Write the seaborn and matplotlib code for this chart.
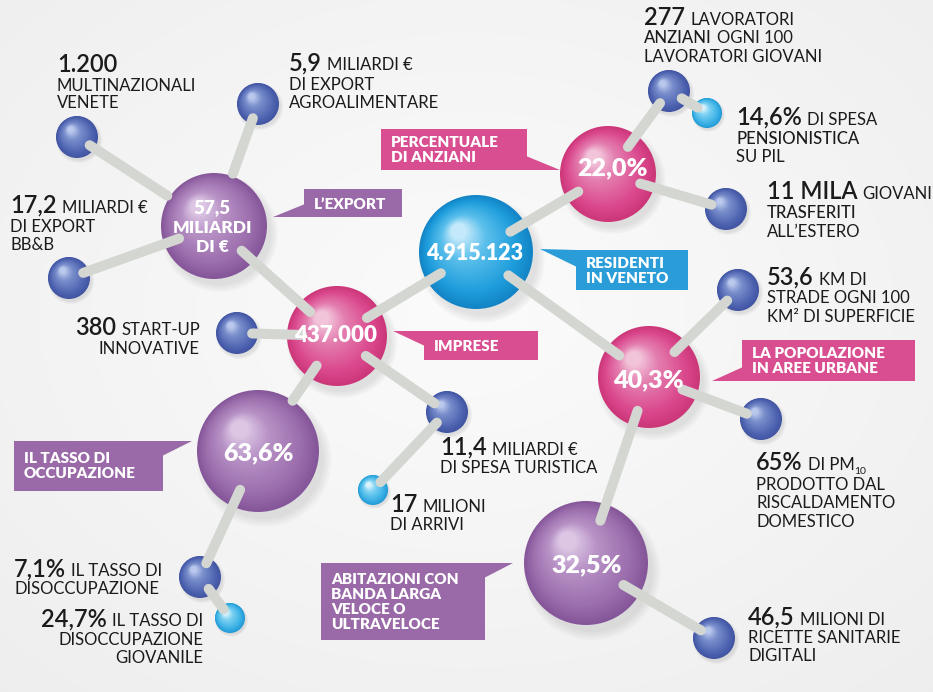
import numpy as np
import pandas as pd
import matplotlib
matplotlib.use("Agg")
import matplotlib.pyplot as plt
import seaborn as sns
from matplotlib.patches import Polygon, Rectangle
from matplotlib.colors import LinearSegmentedColormap

sns.set_theme(style="white")
plt.rcParams["font.family"] = ["Lato", "DejaVu Sans"]

# ------------------------------------------------------------------ data
hub_names = ["export", "residenti", "imprese", "anziani", "urbane", "occupazione", "banda"]
hub_values = [["57,5", "MILIARDI", "DI €"], ["4.915.123"], ["437.000"], ["22,0%"],
              ["40,3%"], ["63,6%"], ["32,5%"]]
hub_captions = [["L’EXPORT"], ["RESIDENTI", "IN VENETO"], ["IMPRESE"],
                ["PERCENTUALE", "DI ANZIANI"], ["LA POPOLAZIONE", "IN AREE URBANE"],
                ["IL TASSO DI", "OCCUPAZIONE"],
                ["ABITAZIONI CON", "BANDA LARGA", "VELOCE O", "ULTRAVELOCE"]]
hub_kind = ["purple", "blue", "pink", "pink", "pink", "purple", "purple"]

leaf_names = ["multinaz", "agro", "bbb", "startup", "turismo", "arrivi", "disocc",
              "disoccg", "lavoratori", "pensioni", "giovani", "strade", "pm10", "ricette"]
leaf_kind = ["small", "small", "small", "small", "small", "cyan", "small",
             "cyan", "small", "cyan", "small", "small", "small", "small"]
leaf_texts = [
    [[("1.200", "n")], [("MULTINAZIONALI", "w")], [("VENETE", "w")]],
    [[("5,9", "n"), ("MILIARDI €", "w")], [("DI EXPORT", "w")], [("AGROALIMENTARE", "w")]],
    [[("17,2", "n"), ("MILIARDI €", "w")], [("DI EXPORT", "w")], [("BB&B", "w")]],
    [[("380", "n"), ("START-UP", "w")], [("INNOVATIVE", "w")]],
    [[("11,4", "n"), ("MILIARDI €", "w")], [("DI SPESA TURISTICA", "w")]],
    [[("17", "n"), ("MILIONI", "w")], [("DI ARRIVI", "w")]],
    [[("7,1%", "n"), ("IL TASSO DI", "w")], [("DISOCCUPAZIONE", "w")]],
    [[("24,7%", "n"), ("IL TASSO DI", "w")], [("DISOCCUPAZIONE", "w")], [("GIOVANILE", "w")]],
    [[("277", "n"), ("LAVORATORI", "w")], [("ANZIANI", "wm"), ("OGNI 100", "w")],
     [("LAVORATORI GIOVANI", "w")]],
    [[("14,6%", "n"), ("DI SPESA", "w")], [("PENSIONISTICA", "wm")], [("SU PIL", "w")]],
    [[("11 MILA", "n"), ("GIOVANI", "w")], [("TRASFERITI", "wm")], [("ALL’ESTERO", "w")]],
    [[("53,6", "n"), ("KM DI", "w")], [("STRADE OGNI 100", "w")], [("KM² DI SUPERFICIE", "w")]],
    [[("65%", "n"), ("DI PM", "w"), ("10", "sub")], [("PRODOTTO DAL", "w")],
     [("RISCALDAMENTO", "w")], [("DOMESTICO", "w")]],
    [[("46,5", "n"), ("MILIONI DI", "w")], [("RICETTE SANITARIE", "w")], [("DIGITALI", "w")]],
]

edges = [("export", "multinaz"), ("export", "agro"), ("export", "bbb"), ("export", "imprese"),
         ("imprese", "residenti"), ("imprese", "startup"), ("imprese", "occupazione"),
         ("imprese", "turismo"), ("turismo", "arrivi"), ("occupazione", "disocc"),
         ("disocc", "disoccg"), ("residenti", "anziani"), ("anziani", "lavoratori"),
         ("lavoratori", "pensioni"), ("anziani", "giovani"), ("residenti", "urbane"),
         ("urbane", "strade"), ("urbane", "pm10"), ("urbane", "banda"), ("banda", "ricette")]

# ------------------------------------------------------------------ layout (pixels)
node_xy = {
    "export": (214, 226, 53), "residenti": (476, 252, 57), "imprese": (337, 336, 50),
    "anziani": (608, 174, 48), "urbane": (649, 377, 51), "occupazione": (258, 451, 61),
    "banda": (586, 563, 62),
    "multinaz": (77, 137, 21), "agro": (258, 104, 21), "bbb": (69, 278, 21),
    "startup": (237, 333, 21), "turismo": (447, 412, 21), "arrivi": (373, 490, 15),
    "disocc": (200, 577, 21), "disoccg": (230, 618, 15), "lavoratori": (669, 91, 21),
    "pensioni": (707, 113, 15), "giovani": (726, 209, 21), "strade": (738, 290, 21),
    "pm10": (761, 419, 21), "ricette": (714, 638, 21),
}
# how far (fraction of radius) a connector reaches into each end sphere
edge_trim = {("export", "multinaz"): (1.05, 0.72), ("export", "agro"): (1.05, 0.72),
             ("imprese", "occupazione"): (0.72, 1.0)}
leaf_pos = {  # x anchor, alignment, baselines
    "multinaz": (57, "left", [72, 91, 108]), "agro": (289, "left", [70, 90, 108]),
    "bbb": (10, "left", [213, 232, 250]), "startup": (200, "right", [335, 354]),
    "turismo": (440, "left", [455, 473]), "arrivi": (390, "left", [512, 530]),
    "disocc": (14, "left", [576, 594]), "disoccg": (203, "right", [626, 645, 663]),
    "lavoratori": (644, "left", [25, 43, 62]), "pensioni": (736, "left", [125, 144, 162]),
    "giovani": (767, "left", [199, 218, 237]), "strade": (767, "left", [285, 303, 322]),
    "pm10": (756, "left", [470, 490, 508, 527]), "ricette": (748, "left", [625, 643, 661]),
}
hub_text_pos = {  # x centre, baselines, sizes
    "export": (212, [213, 233, 252], [13.5, 12.5, 12.5]),
    "residenti": (475, [260], [15.5]), "imprese": (336, [342], [16]),
    "anziani": (612, [175], [18]), "urbane": (648, [387], [18]),
    "occupazione": (258, [460], [18]), "banda": (587, [572], [18]),
}
callouts = {  # box (x0,y0,x1,y1), tail triangle, text baselines
    "export": ((304, 189, 402, 217), [(273, 217), (305, 217), (305, 204)], [209]),
    "residenti": ((576, 250, 688, 290), [(540, 249), (577, 250), (577, 267)], [268, 283]),
    "imprese": ((424, 331, 538, 360), [(393, 331), (425, 331), (425, 346)], [351]),
    "anziani": ((381, 129, 527, 170), [(560, 170), (526, 170), (526, 156)], [147, 162]),
    "urbane": ((742, 340, 915, 381), [(712, 381), (743, 381), (743, 367)], [358, 373]),
    "occupazione": ((14, 441, 163, 491), [(192, 441), (162, 441), (162, 456)], [463, 478]),
    "banda": ((321, 563, 485, 640), [(513, 563), (484, 563), (484, 578)], [584, 599, 614, 629]),
}

kind_colors = {
    "purple": ["#85579a", "#9a6cab", "#b893c6", "#dcc6e4"],
    "pink": ["#cc3779", "#da478c", "#e47fb0", "#f2c4da"],
    "blue": ["#1385c6", "#1d9cdb", "#5cc0ec", "#c4e9fa"],
    "small": ["#4155a3", "#5065b1", "#7a8fcc", "#bac8ee"],
    "cyan": ["#229bd6", "#3bb1e6", "#7dd2f2", "#dcf5fd"],
}
box_colors = {"purple": "#9a69a8", "pink": "#d84e90", "blue": "#2a9dd8"}
text_dark = "#1b1b1b"
link_color = "#d4d6d1"

W, H = 933, 692
fig = plt.figure(figsize=(W / 100, H / 100), dpi=100)
ax = fig.add_axes([0, 0, 1, 1])

# background soft radial gradient
yy, xx = np.mgrid[0:H, 0:W]
d = np.sqrt(((xx - W * 0.5) / W) ** 2 + ((yy - H * 0.45) / H) ** 2)
bg = np.clip(0.985 - 0.07 * d, 0, 1)
ax.imshow(np.dstack([bg, bg, bg]), extent=[0, W, H, 0], zorder=0, aspect="auto")

all_names = hub_names + leaf_names
all_kind = dict(zip(hub_names, hub_kind)) | dict(zip(leaf_names, leaf_kind))
cmaps = {k: LinearSegmentedColormap.from_list(k, list(zip([0, 0.22, 0.7, 1.0], v)))
         for k, v in kind_colors.items()}

def pt_area(r):
    return (2 * r * 0.72) ** 2

# shadows
for j in range(4):
    rows = []
    for n in all_names:
        x, y, r = node_xy[n]
        rows.append(dict(node=n, x=x + 0.10 * r, y=y + 0.14 * r, s=pt_area(r * (1.10 - 0.04 * j))))
    df = pd.DataFrame(rows)
    sns.scatterplot(data=df, x="x", y="y", size="node", sizes=dict(zip(df.node, df.s)),
                    color="#6b6b6b", alpha=0.045, linewidth=0, legend=False, ax=ax, zorder=1)

# gradient spheres
N = 30
for k in range(N):
    t = k / (N - 1)
    rows = []
    for n in all_names:
        x, y, r = node_xy[n]
        rr = r * (1 - 0.86 * t)
        cx, cy = x - 0.30 * r * t, y - 0.36 * r * t
        col = cmaps[all_kind[n]](t)
        rows.append(dict(node=n, x=cx, y=cy, s=pt_area(rr), c=col))
    df = pd.DataFrame(rows)
    sns.scatterplot(data=df, x="x", y="y", hue="node", palette=dict(zip(df.node, df.c)),
                    size="node", sizes=dict(zip(df.node, df.s)), linewidth=0,
                    legend=False, ax=ax, zorder=2)

# connectors
for a, b in edges:
    xa, ya, ra = node_xy[a]
    xb, yb, rb = node_xy[b]
    fa, fb = edge_trim.get((a, b), (0.70, 0.72))
    u = np.array([xb - xa, yb - ya], float)
    u /= np.linalg.norm(u)
    p0 = np.array([xa, ya]) + u * ra * fa
    p1 = np.array([xb, yb]) - u * rb * fb
    ax.plot([p0[0], p1[0]], [p0[1], p1[1]], color=link_color, lw=7.2,
            solid_capstyle="round", zorder=3)

# hub values inside spheres
for n, lines in zip(hub_names, hub_values):
    x, bases, sizes = hub_text_pos[n]
    for s, yb, fs in zip(lines, bases, sizes):
        ax.text(x, yb, s, color="white", fontsize=fs, fontweight="heavy",
                ha="center", va="baseline", zorder=5)

# callout boxes
for n, lines, kind in zip(hub_names, hub_captions, hub_kind):
    (x0, y0, x1, y1), tail, bases = callouts[n]
    col = box_colors[kind]
    ax.add_patch(Rectangle((x0, y0), x1 - x0, y1 - y0, facecolor=col, edgecolor="none", zorder=4))
    ax.add_patch(Polygon(tail, closed=True, facecolor=col, edgecolor="none", zorder=4))
    for s, yb in zip(lines, bases):
        ax.text(x0 + 10, yb, s, color="white", fontsize=11, fontweight="heavy",
                ha="left", va="baseline", zorder=5)

# leaf annotations (mixed size runs)
styles = {"n": (17, "semibold", 0), "w": (12, "normal", 0), "wm": (12, "medium", 0),
          "sub": (7.5, "normal", 4)}
renderer = fig.canvas.get_renderer()
for n, lines in zip(leaf_names, leaf_texts):
    x, align, bases = leaf_pos[n]
    for runs, yb in zip(lines, bases):
        items = []
        for s, st in runs:
            fs, fw, dy = styles[st]
            t = ax.text(0, yb + dy, s, fontsize=fs, fontweight=fw, color=text_dark,
                        ha="left", va="baseline", zorder=5)
            w = t.get_window_extent(renderer).width
            gap = 0 if st == "sub" else (5 if items else 0)
            items.append((t, w, gap))
        total = sum(w + g for _, w, g in items)
        cx = x if align == "left" else x - total
        for t, w, g in items:
            cx += g
            t.set_x(cx)
            cx += w

ax.set_xlim(0, W)
ax.set_ylim(H, 0)
ax.axis("off")
fig.savefig("out.png", dpi=100)
